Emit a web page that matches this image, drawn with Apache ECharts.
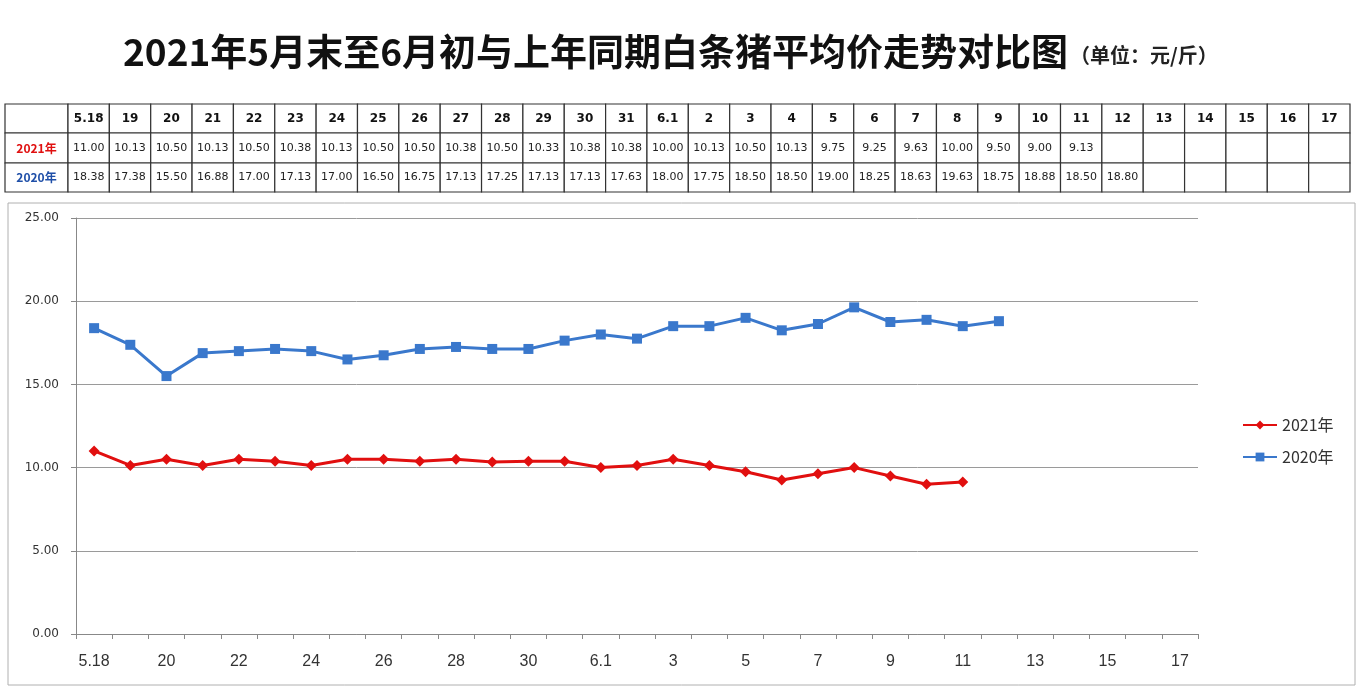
<!DOCTYPE html>
<html><head><meta charset="utf-8">
<script src="https://cdn.jsdelivr.net/npm/echarts@6/dist/echarts.min.js"></script>
<style>html,body{margin:0;padding:0;background:#fff}#c{width:1360px;height:690px}</style>
</head><body><div id="c"></div>
<script>
const dates = ['5.18','19','20','21','22','23','24','25','26','27','28','29','30','31','6.1','2','3','4','5','6','7','8','9','10','11','12','13','14','15','16','17'];
const prices2021 = [11.00,10.13,10.50,10.13,10.50,10.38,10.13,10.50,10.50,10.38,10.50,10.33,10.38,10.38,10.00,10.13,10.50,10.13,9.75,9.25,9.63,10.00,9.50,9.00,9.13];
const prices2020 = [18.38,17.38,15.50,16.88,17.00,17.13,17.00,16.50,16.75,17.13,17.25,17.13,17.13,17.63,18.00,17.75,18.50,18.50,19.00,18.25,18.63,19.63,18.75,18.88,18.50,18.80];
const seriesNames = ['2021年','2020年'];
const titleText = '2021年5月末至6月初与上年同期白条猪平均价走势对比图';
const unitText = '（单位：元/斤）';

const RED = '#e10f0f', BLUE = '#3a78cc';
const chart = echarts.init(document.getElementById('c'));

// table built from the data arrays
const tX = 5, tY = 104, firstW = 63, colW = (1350 - 68) / dates.length, rowH = [29, 30, 29];
const g = [];
const rows = [
  {label: '', vals: dates, color: '#111', bold: true, size: 12},
  {label: seriesNames[0], vals: dates.map((d, i) => i < prices2021.length ? prices2021[i].toFixed(2) : ''), color: '#222', labColor: '#e01010', size: 11},
  {label: seriesNames[1], vals: dates.map((d, i) => i < prices2020.length ? prices2020[i].toFixed(2) : ''), color: '#222', labColor: '#1f4fa8', size: 11}
];
let y = tY;
rows.forEach((r, ri) => {
  const h = rowH[ri];
  g.push({type: 'rect', shape: {x: tX, y: y, width: firstW, height: h}, style: {fill: '#fff', stroke: '#333', lineWidth: 1.2}});
  if (r.label) g.push({type: 'text', x: tX + firstW / 2, y: y + h / 2, style: {text: r.label, fill: r.labColor, font: 'bold 12px "Noto Sans CJK SC"', align: 'center', verticalAlign: 'middle'}});
  r.vals.forEach((v, ci) => {
    const x = tX + firstW + ci * colW;
    g.push({type: 'rect', shape: {x: x, y: y, width: colW, height: h}, style: {fill: '#fff', stroke: '#333', lineWidth: 1.2}});
    if (v !== '') g.push({type: 'text', x: x + colW / 2, y: y + h / 2, style: {text: v, fill: r.color, font: (r.bold ? 'bold ' : '') + r.size + 'px "DejaVu Sans"', align: 'center', verticalAlign: 'middle'}});
  });
  y += h;
});
// chart frame
g.unshift({type: 'rect', shape: {x: 8, y: 203, width: 1347, height: 482}, style: {fill: 'none', stroke: '#b0b0b0', lineWidth: 1}});

chart.setOption({
  backgroundColor: '#fff',
  animation: false,
  title: {
    left: 118, top: 28,
    text: '{a|' + titleText + '}{b|' + unitText + '}',
    textStyle: {
      rich: {
        a: {fontSize: 37, fontWeight: 'bold', color: '#111', fontFamily: 'Noto Sans CJK SC'},
        b: {fontSize: 20, color: '#222', fontFamily: 'Noto Sans CJK SC', padding: [8, 0, 0, 2]}
      }
    }
  },
  graphic: g,
  legend: {
    orient: 'vertical', left: 1237, top: 412, itemGap: 16, itemWidth: 34, itemHeight: 11,
    textStyle: {fontSize: 16, color: '#333', fontFamily: 'Noto Sans CJK SC'},
    data: seriesNames
  },
  grid: {left: 76, right: 162, top: 218, bottom: 56},
  xAxis: {
    type: 'category', data: dates, boundaryGap: true,
    axisLine: {lineStyle: {color: '#888'}},
    axisTick: {show: true, length: 5, lineStyle: {color: '#888'}, interval: 0},
    axisLabel: {interval: 1, fontSize: 16, color: '#333', margin: 20, fontFamily: 'Liberation Sans'}
  },
  yAxis: {
    type: 'value', min: 0, max: 25, interval: 5,
    axisLine: {show: true, lineStyle: {color: '#888'}},
    axisTick: {show: true, length: 5, inside: false, lineStyle: {color: '#888'}},
    splitLine: {lineStyle: {color: '#9a9a9a'}},
    axisLabel: {formatter: v => v.toFixed(2), fontSize: 12, color: '#333', margin: 17, fontFamily: 'DejaVu Sans'}
  },
  series: [
    {name: seriesNames[0], type: 'line', data: prices2021, symbol: 'diamond', symbolSize: 11,
     itemStyle: {color: RED}, lineStyle: {color: RED, width: 3}},
    {name: seriesNames[1], type: 'line', data: prices2020, symbol: 'rect', symbolSize: 10,
     itemStyle: {color: BLUE}, lineStyle: {color: BLUE, width: 3}}
  ]
});
</script></body></html>
